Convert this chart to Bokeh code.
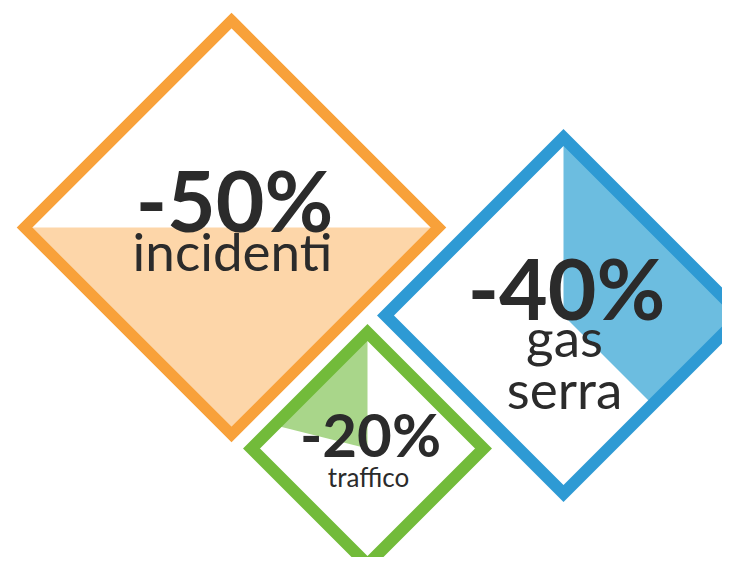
import math
from bokeh.plotting import figure
from bokeh.models import Range1d
from bokeh.embed import file_html
from bokeh.resources import INLINE
from bokeh.core.properties import value

# ---- data ----
labels = ["-50%", "-40%", "-20%"]
sublabels = [["incidenti"], ["gas", "serra"], ["traffico"]]
fill_fraction = [0.50, 0.375, 0.20]
fill_mode = ["bottom", "cw", "ccw"]

# ---- layout / style ----
centers = [(231, 227), (563, 315), (367, 448)]
half = [207, 178, 116]
stroke_colors = ["#F8A13A", "#2E9AD4", "#72BB3A"]
fill_colors = ["#FDD6A9", "#6CBDE0", "#A9D68A"]
line_w = [11, 12, 12]
big_px = [84, 84, 60]
small_px = [53, 53, 26]
big_base = [229, 317, 455]
small_base = [[269], [355, 407], [486]]
BASE_SHIFT = 0.36  # em correction for renderer baseline
text_color = "#2B2B2B"
FONT = "Lato"

p = figure(width=722, height=557, x_range=Range1d(0, 722), y_range=Range1d(557, 0),
           output_backend="svg", toolbar_location=None, min_border=0)
p.axis.visible = False
p.grid.visible = False
p.outline_line_color = None
p.background_fill_color = "white"

for i in range(3):
    cx, cy = centers[i]
    h = half[i]
    top = (cx, cy - h)
    right = (cx + h, cy)
    bottom = (cx, cy + h)
    left = (cx - h, cy)
    f = fill_fraction[i]
    mode = fill_mode[i]
    if mode == "bottom":
        if f <= 0.5:
            k = math.sqrt(2 * f)
            yl = cy + h - k * h
            w = k * h
            xs = [cx - w, cx + w, cx]
            ys = [yl, yl, cy + h]
        else:
            k = math.sqrt(2 * (1 - f))
            yl = cy - h + k * h
            w = k * h
            xs = [cx - w, left[0], bottom[0], right[0], cx + w]
            ys = [yl, left[1], bottom[1], right[1], yl]
    elif mode == "cw":
        t = (f - 0.25) * 4
        px = right[0] + t * (bottom[0] - right[0])
        py = right[1] + t * (bottom[1] - right[1])
        xs = [top[0], cx, px, right[0]]
        ys = [top[1], cy, py, right[1]]
    else:
        t = f * 4
        px = top[0] + t * (left[0] - top[0])
        py = top[1] + t * (left[1] - top[1])
        xs = [top[0], cx, px]
        ys = [top[1], cy, py]
    p.patch(xs, ys, fill_color=fill_colors[i], line_color=None)
    p.patch([top[0], right[0], bottom[0], left[0]], [top[1], right[1], bottom[1], left[1]],
            fill_color=None, line_color=stroke_colors[i], line_width=line_w[i], line_join="miter")

    p.text(x=[cx + 3], y=[big_base[i] - BASE_SHIFT * big_px[i]], text=[labels[i]],
           text_font=value(FONT), text_font_size=f"{big_px[i]}px", text_font_style="bold",
           text_color=text_color, text_align="center", text_baseline="alphabetic")
    for j, s in enumerate(sublabels[i]):
        p.text(x=[cx + 1], y=[small_base[i][j] - BASE_SHIFT * small_px[i]], text=[s],
               text_font=value(FONT), text_font_size=f"{small_px[i]}px",
               text_color=text_color, text_align="center", text_baseline="alphabetic")

open("out.html", "w").write(file_html(p, INLINE))
